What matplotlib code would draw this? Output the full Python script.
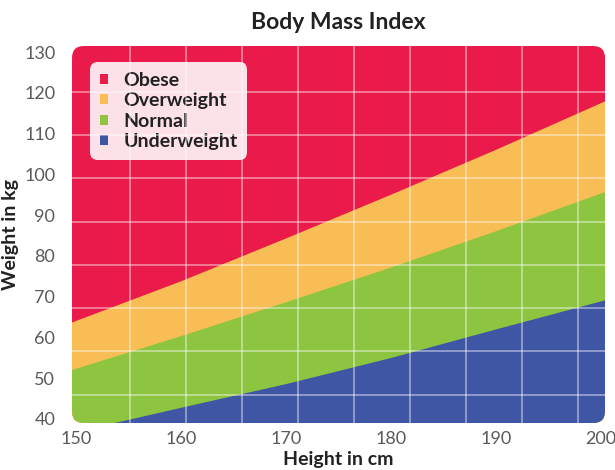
import matplotlib
matplotlib.use("Agg")
import matplotlib.pyplot as plt
import numpy as np
from matplotlib.patches import FancyBboxPatch, Patch

heights = [149.5, 160, 170, 180, 190, 200.5]
underweight_top = [36.7, 42.9, 48.7, 55.1, 62.1, 69.3]
normal_top = [52.1, 60.5, 68.8, 77.3, 86.2, 95.9]
overweight_top = [63.6, 73.8, 84.3, 95.0, 106.0, 118.0]

x_ticks = [150, 160, 170, 180, 190, 200]
y_ticks = [40, 50, 60, 70, 80, 90, 100, 110, 120, 130]

categories = ["Obese", "Overweight", "Normal", "Underweight"]
colors = {"Obese": "#EA1A4A", "Overweight": "#F8BD54",
          "Normal": "#8DC540", "Underweight": "#3F56A4"}

plt.rcParams['font.family'] = ['Lato', 'DejaVu Sans']

fig = plt.figure(figsize=(6.15, 4.7), dpi=100)
ax = fig.add_axes([72 / 615, 47 / 470, 533 / 615, 377 / 470])
ax.set_xlim(149.56, 200.42)
ax.set_ylim(39.0, 131.5)
ax.patch.set_visible(False)
for s in ax.spines.values():
    s.set_visible(False)

# rounded plot area used as clip
clip = FancyBboxPatch((0, 0), 1, 1, boxstyle="round,pad=0,rounding_size=%f" % (12 / 533),
                      mutation_aspect=533 / 377, transform=ax.transAxes,
                      facecolor="none", edgecolor="none")
ax.add_patch(clip)

# stacked from the top band down so no seams show between the bands
h = np.array(heights)
fills = [
    ax.fill_between(h, 0, 200, color=colors["Obese"], lw=0),
    ax.fill_between(h, 0, overweight_top, color=colors["Overweight"], lw=0),
    ax.fill_between(h, 0, normal_top, color=colors["Normal"], lw=0),
    ax.fill_between(h, 0, underweight_top, color=colors["Underweight"], lw=0),
]
for f in fills:
    f.set_clip_path(clip)

# grid drawn over the bands (and the legend), offset from the tick labels
grid_x = 155.1 + 5.344 * np.arange(9)
grid_y = 120.27 - 10.62 * np.arange(8)
for gx in grid_x:
    ln = ax.axvline(gx, color="white", lw=1.3, alpha=0.45, zorder=6)
    ln.set_clip_path(clip)
for gy in grid_y:
    ln = ax.axhline(gy, color="white", lw=1.3, alpha=0.45, zorder=6)
    ln.set_clip_path(clip)

ax.set_xticks(x_ticks)
ax.set_yticks(y_ticks)
ax.tick_params(length=0, labelsize=13, labelcolor="#5a5a5a")
ax.tick_params(axis="y", pad=12)
ax.tick_params(axis="x", pad=6)

ax.set_title("Body Mass Index", fontsize=16.5, fontweight="bold", color="#222222", pad=12)
ax.set_xlabel("Height in cm", fontsize=14, fontweight="bold", color="#222222", labelpad=3)
ax.set_ylabel("Weight in kg", fontsize=14, fontweight="bold", color="#222222", labelpad=4)

handles = [Patch(facecolor=colors[c], edgecolor="none") for c in categories]
leg = ax.legend(handles, categories, loc="upper left",
                bbox_to_anchor=((90 - 72) / 533, (423 - 62) / 377),
                fontsize=14, handlelength=0.42, handleheight=0.42,
                handletextpad=0.8, labelspacing=0.18, borderpad=0.5,
                borderaxespad=0, fancybox=True, framealpha=0.88,
                facecolor="white", edgecolor="none")
leg.get_frame().set_boxstyle("round,pad=0,rounding_size=0.4")
for t in leg.get_texts():
    t.set_fontweight("bold")
    t.set_color("#222222")
leg.set_zorder(5)

fig.savefig("out.png", dpi=100)
